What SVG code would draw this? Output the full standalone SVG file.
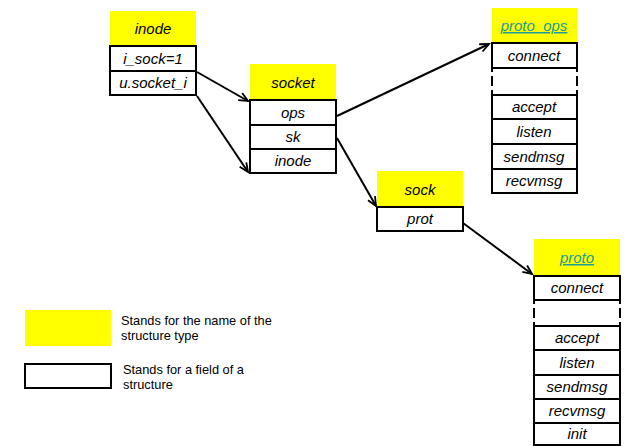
<svg xmlns="http://www.w3.org/2000/svg" width="641" height="446" viewBox="0 0 641 446">
<defs>
<style>
.hdr{fill:#ffff00;stroke:none}
.fld{fill:#fff;stroke:#000;stroke-width:2}
.dsh{fill:none;stroke:#000;stroke-width:2;stroke-dasharray:4 4 10 4 6}
.t{font-family:"Liberation Sans",Arial,sans-serif;font-size:15px;font-style:italic;fill:#000;text-anchor:middle}
.lnk{fill:#1a9c9c;text-decoration:underline}
.lg{font-family:"Liberation Sans",Arial,sans-serif;font-size:12.8px;fill:#000}
.con{stroke:#000;stroke-width:2;fill:none;marker-end:url(#ah)}
</style>
<marker id="ah" markerWidth="12" markerHeight="12" refX="10" refY="5" orient="auto" markerUnits="userSpaceOnUse">
<path d="M1,1 L10,5 L1,9" fill="none" stroke="#000" stroke-width="1.8"/>
</marker>
</defs>
<rect width="641" height="446" fill="#fff"/>

<g id="inode">
<rect class="hdr" x="110" y="11" width="86" height="35"/>
<text class="t" x="153" y="34">inode</text>
<rect class="fld" x="110" y="46" width="86" height="25"/>
<text class="t" x="153" y="64">i_sock=1</text>
<rect class="fld" x="110" y="71" width="86" height="24"/>
<text class="t" x="153" y="88">u.socket_i</text>
</g>

<g id="socket">
<rect class="hdr" x="250" y="64" width="86" height="36"/>
<text class="t" x="293" y="88">socket</text>
<rect class="fld" x="250" y="100" width="86" height="25"/>
<text class="t" x="293" y="118">ops</text>
<rect class="fld" x="250" y="125" width="86" height="24"/>
<text class="t" x="293" y="142">sk</text>
<rect class="fld" x="250" y="149" width="86" height="24"/>
<text class="t" x="293" y="166">inode</text>
</g>

<g id="proto_ops">
<rect class="hdr" x="492" y="8" width="85" height="35"/>
<text class="t lnk" x="534" y="31">proto_ops</text>
<rect class="fld" x="492" y="43" width="85" height="25"/>
<text class="t" x="534" y="61">connect</text>
<line x1="492" y1="68" x2="492" y2="95" class="dsh"/>
<line x1="577" y1="68" x2="577" y2="95" class="dsh"/>
<rect class="fld" x="492" y="95" width="85" height="24"/>
<text class="t" x="534" y="112">accept</text>
<rect class="fld" x="492" y="119" width="85" height="25"/>
<text class="t" x="534" y="137">listen</text>
<rect class="fld" x="492" y="144" width="85" height="25"/>
<text class="t" x="534" y="162">sendmsg</text>
<rect class="fld" x="492" y="169" width="85" height="24"/>
<text class="t" x="534" y="186">recvmsg</text>
</g>

<g id="sock">
<rect class="hdr" x="377" y="171" width="86" height="36"/>
<text class="t" x="420" y="195">sock</text>
<rect class="fld" x="377" y="207" width="86" height="24"/>
<text class="t" x="420" y="224">prot</text>
</g>

<g id="proto">
<rect class="hdr" x="534" y="239" width="86" height="37"/>
<text class="t lnk" x="577" y="263">proto</text>
<rect class="fld" x="534" y="276" width="86" height="24"/>
<text class="t" x="577" y="293">connect</text>
<line x1="534" y1="300" x2="534" y2="326" class="dsh"/>
<line x1="620" y1="300" x2="620" y2="326" class="dsh"/>
<rect class="fld" x="534" y="326" width="86" height="24"/>
<text class="t" x="577" y="343">accept</text>
<rect class="fld" x="534" y="350" width="86" height="25"/>
<text class="t" x="577" y="368">listen</text>
<rect class="fld" x="534" y="375" width="86" height="24"/>
<text class="t" x="577" y="392">sendmsg</text>
<rect class="fld" x="534" y="399" width="86" height="24"/>
<text class="t" x="577" y="416">recvmsg</text>
<rect class="fld" x="534" y="423" width="86" height="22"/>
<text class="t" x="577" y="439">init</text>
</g>

<g id="legend">
<rect class="hdr" x="25" y="310" width="86" height="36"/>
<text class="lg" x="121" y="325">Stands for the name of the</text>
<text class="lg" x="121" y="340">structure type</text>
<rect class="fld" x="25" y="364" width="86" height="24"/>
<text class="lg" x="123" y="374">Stands for a field of a</text>
<text class="lg" x="123" y="389">structure</text>
</g>

<g id="connectors">
<line class="con" x1="197" y1="72" x2="248" y2="101"/>
<line class="con" x1="197" y1="96" x2="248" y2="172"/>
<line class="con" x1="337" y1="116" x2="489" y2="44"/>
<line class="con" x1="337" y1="138" x2="376" y2="206"/>
<line class="con" x1="463" y1="223" x2="532" y2="274"/>
</g>
</svg>
